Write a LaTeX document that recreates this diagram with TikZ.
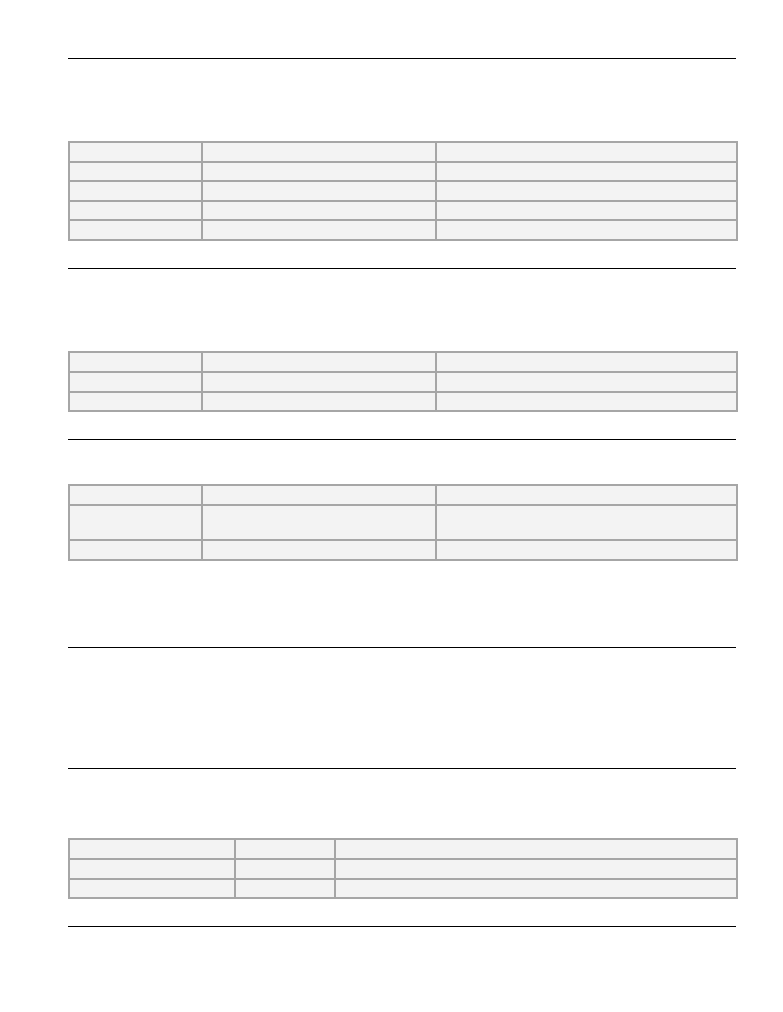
\documentclass[tikz,border=0pt]{standalone}
\begin{document}
\begin{tikzpicture}[x=1pt,y=-1pt,
  cell/.style={draw=cellborder,fill=cellfill,line width=1.4pt},
  hrule/.style={draw=black,line width=0.9pt}]
\definecolor{cellborder}{HTML}{A6A6A6}
\definecolor{cellfill}{HTML}{F3F3F3}
\useasboundingbox[fill=white] (0,0) rectangle (782,1012);
% rules
\foreach \y in {58,268,439,647,768,926} \draw[hrule] (68,\y) -- (736,\y);
% table 1
\foreach \a/\b in {142/162,162/181,181/201,201/220,220/240}{
  \draw[cell] (69,\a) rectangle (202,\b);
  \draw[cell] (202,\a) rectangle (436,\b);
  \draw[cell] (436,\a) rectangle (737,\b);
}
% table 2
\foreach \a/\b in {352/372,372/392,392/411}{
  \draw[cell] (69,\a) rectangle (202,\b);
  \draw[cell] (202,\a) rectangle (436,\b);
  \draw[cell] (436,\a) rectangle (737,\b);
}
% table 3
\foreach \a/\b in {485/505,505/540,540/560}{
  \draw[cell] (69,\a) rectangle (202,\b);
  \draw[cell] (202,\a) rectangle (436,\b);
  \draw[cell] (436,\a) rectangle (737,\b);
}
% table 4
\foreach \a/\b in {839/859,859/879,879/898}{
  \draw[cell] (69,\a) rectangle (235,\b);
  \draw[cell] (235,\a) rectangle (335,\b);
  \draw[cell] (335,\a) rectangle (737,\b);
}
\end{tikzpicture}
\end{document}
